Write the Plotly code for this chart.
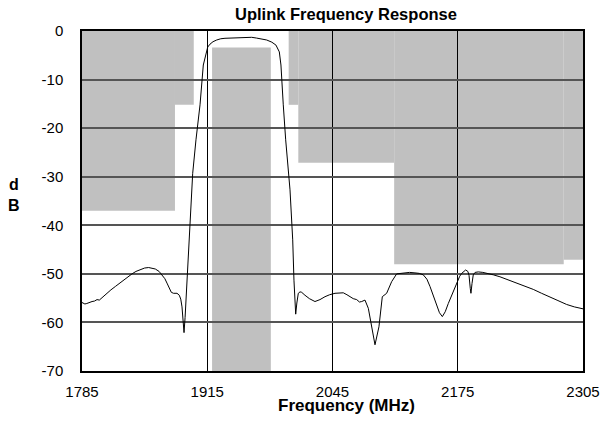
import plotly.graph_objects as go

# ---- data ----
freq = [1785, 1788, 1790, 1793, 1795.4, 1798, 1800.6, 1803, 1805.8, 1808, 1811, 1815, 1819.6, 1824,
        1828.3, 1832.5, 1836.9, 1841, 1845.5, 1850, 1854.2, 1858, 1861.1, 1865, 1868, 1871, 1873.2,
        1875.5, 1877.7, 1880, 1883.6, 1886, 1887.5, 1888.8, 1890, 1890.9, 1892, 1893, 1893.7, 1894.3,
        1895.7, 1896.4, 1899.9, 1903.3, 1907.5, 1910.9, 1913.7, 1915.5, 1917.9, 1921, 1924.8, 1929,
        1933.4, 1940, 1949, 1955, 1961.1, 1966, 1972, 1976.7, 1982, 1986.3, 1989.8, 1991.5, 1993.9,
        1996.4, 2000.9, 2003.7, 2005, 2006.8, 2008, 2009.5, 2011.3, 2013, 2016.4, 2021, 2026.8, 2032,
        2037.2, 2042, 2047.6, 2052, 2056.2, 2060, 2063.2, 2066.5, 2070.1, 2073, 2075.3, 2078.7, 2082.2,
        2085.7, 2089.1, 2093.2, 2096.7, 2101.2, 2106.4, 2111.6, 2115, 2120.2, 2125, 2130.6, 2135, 2139.2,
        2143, 2146.2, 2149.5, 2153.1, 2156, 2159, 2162, 2165.2, 2170, 2173.9, 2177, 2179.1, 2183.2,
        2185.5, 2186.7, 2188, 2188.7, 2189.8, 2191.1, 2193, 2196.3, 2201, 2206.7, 2212, 2218.8, 2227,
        2236.2, 2245, 2253.4, 2262, 2270.7, 2279, 2288, 2296, 2305]
response_db = [-55.9, -56.2, -56.1, -55.8, -55.7, -55.6, -55.3, -55.4, -54.9, -54.6, -53.9, -53.3, -52.6,
               -51.9, -51.3, -50.6, -50.0, -49.5, -49.1, -48.8, -48.7, -48.8, -49.0, -49.5, -50.2, -51.0,
               -51.9, -53.0, -53.8, -54.0, -54.0, -54.4, -55.2, -56.8, -59.5, -62.1, -59.0, -55.4, -51.3,
               -49.2, -45.1, -40.3, -29.3, -22.4, -15.2, -7.0, -4.3, -3.3, -2.7, -2.2, -1.85, -1.6, -1.5,
               -1.45, -1.5, -1.4, -1.3, -1.45, -1.6, -1.85, -2.3, -2.9, -4.3, -7.0, -15.2, -22.4, -32.7,
               -43.0, -51.3, -58.3, -56.0, -54.0, -53.7, -53.8, -54.4, -55.1, -55.7, -55.3, -54.7, -54.3,
               -54.0, -53.9, -53.9, -54.3, -54.7, -55.1, -55.3, -55.8, -55.7, -55.4, -57.1, -60.9, -64.6,
               -60.9, -54.7, -54.0, -51.6, -50.0, -49.9, -49.9, -49.7, -49.8, -49.9, -50.2, -51.1, -52.6,
               -54.4, -56.4, -58.0, -58.8, -57.8, -56.1, -53.8, -51.9, -50.5, -49.9, -49.2, -49.5, -50.3,
               -53.0, -54.0, -52.0, -50.2, -49.7, -49.6, -49.7, -49.9, -50.2, -50.6, -51.2, -51.8, -52.5,
               -53.2, -54.0, -54.7, -55.5, -56.3, -56.8, -57.2]

# spectral mask regions (grey blocks)
mask_start = [1785, 1881.5, 1920, 1999.5, 2009.5, 2109, 2285]
mask_end = [1881.5, 1901, 1981, 2009.5, 2109, 2285, 2305]
mask_top = [0, 0, -3.4, 0, 0, 0, 0]
mask_bottom = [-37, -15.2, -70, -15.2, -27.1, -48, -47.1]

x_ticks = [1785, 1915, 2045, 2175, 2305]
y_ticks = [0, -10, -20, -30, -40, -50, -60, -70]

FONT = "Liberation Sans, Arial, sans-serif"

fig = go.Figure()
fig.add_trace(go.Scatter(x=freq, y=response_db, mode="lines",
                         line=dict(color="black", width=1), hoverinfo="skip", showlegend=False))

for x0, x1, y0, y1 in zip(mask_start, mask_end, mask_top, mask_bottom):
    fig.add_shape(type="rect", xref="x", yref="y", x0=x0, x1=x1, y0=y1, y1=y0,
                  fillcolor="#C0C0C0", line=dict(width=0), layer="below")

fig.update_layout(
    width=601, height=423,
    margin=dict(l=82, r=18, t=31, b=52, autoexpand=False),
    paper_bgcolor="white", plot_bgcolor="white",
    font=dict(family=FONT, color="black", size=15),
    showlegend=False,
    annotations=[
        dict(text="<b>Uplink Frequency Response</b>", xref="paper", yref="paper",
             x=(346 - 82) / 501, y=1 + (31 - 14) / 340, xanchor="center", yanchor="middle",
             showarrow=False, font=dict(family=FONT, size=16.5, color="black")),
        dict(text="<b>Frequency (MHz)</b>", xref="paper", yref="paper",
             x=(346.5 - 82) / 501, y=-(405 - 371) / 340, xanchor="center", yanchor="middle",
             showarrow=False, font=dict(family=FONT, size=17, color="black")),
        dict(text="<b>d</b>", xref="paper", yref="paper",
             x=(14 - 82) / 501, y=(371 - 185) / 340, xanchor="center", yanchor="middle",
             showarrow=False, font=dict(family=FONT, size=16, color="black")),
        dict(text="<b>B</b>", xref="paper", yref="paper",
             x=(14 - 82) / 501, y=(371 - 206) / 340, xanchor="center", yanchor="middle",
             showarrow=False, font=dict(family=FONT, size=16, color="black")),
    ],
)

fig.update_xaxes(range=[1785, 2305], tickvals=x_ticks, ticktext=[str(v) for v in x_ticks],
                 showgrid=True, gridcolor="black", gridwidth=1, automargin=False,
                 showline=True, linecolor="black", linewidth=1.5, mirror=True,
                 ticks="", ticklabelstandoff=6, zeroline=False,
                 tickfont=dict(family=FONT, size=15, color="black"))
fig.update_yaxes(range=[-70, 0], tickvals=y_ticks, ticktext=[str(v) for v in y_ticks],
                 showgrid=True, gridcolor="#555555", gridwidth=1.5, automargin=False,
                 showline=True, linecolor="black", linewidth=1.5, mirror=True,
                 ticks="", ticklabelstandoff=14, zeroline=False,
                 tickfont=dict(family=FONT, size=15, color="black"))

fig.write_html("out.html", config={"displayModeBar": False},
               post_script="document.body.style.margin='0';document.body.style.overflow='hidden';")
